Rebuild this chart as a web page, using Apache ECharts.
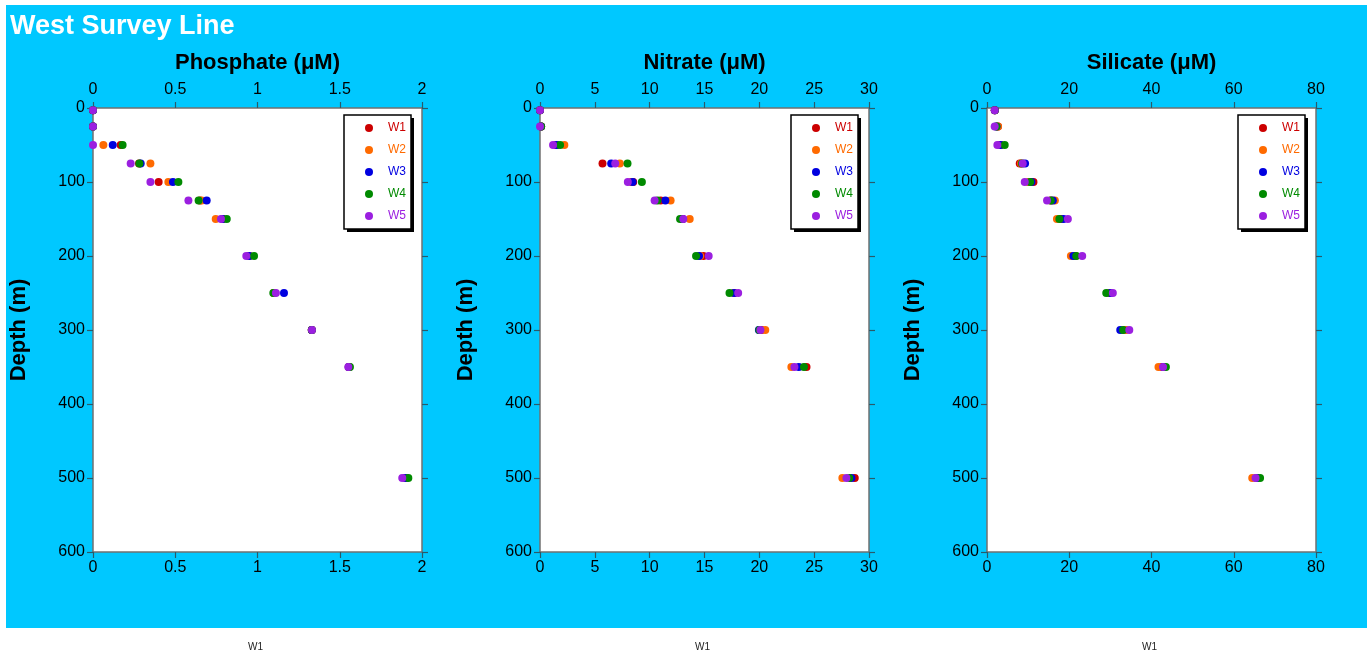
<!DOCTYPE html>
<html>
<head>
<meta charset="utf-8">
<script src="https://cdn.jsdelivr.net/npm/echarts@6/dist/echarts.min.js"></script>
<style>
html,body{margin:0;padding:0;background:#fff;}
#c{width:1367px;height:662px;}
</style>
</head>
<body>
<div id="c"></div>
<script>
const depths = [3, 25, 50, 75, 100, 125, 150, 200, 250, 300, 350, 500];
const seriesNames = ['W1', 'W2', 'W3', 'W4', 'W5'];
const seriesColors = ['#cc0000', '#ff6a00', '#0000e0', '#008a00', '#9b1fe0'];

// Phosphate (uM)
const phosW1 = [0, 0, 0.168, 0.28, 0.399, 0.65, 0.79, 0.95, 1.10, 1.33, 1.555, 1.90];
const phosW2 = [0, 0, 0.063, 0.349, 0.458, 0.66, 0.746, 0.95, 1.10, 1.33, 1.555, 1.90];
const phosW3 = [0, 0, 0.12, 0.29, 0.486, 0.691, 0.79, 0.95, 1.161, 1.33, 1.555, 1.90];
const phosW4 = [0, 0, 0.18, 0.282, 0.519, 0.642, 0.813, 0.979, 1.096, 1.33, 1.562, 1.917];
const phosW5 = [0, 0, 0, 0.229, 0.349, 0.58, 0.778, 0.932, 1.112, 1.331, 1.552, 1.88];

// Nitrate (uM)
const nitW1 = [0, 0.1, 1.5, 5.7, 8.5, 11.0, 13.0, 14.9, 17.7, 20.2, 24.3, 28.7];
const nitW2 = [0, 0.1, 2.22, 7.28, 8.3, 11.91, 13.65, 14.6, 17.7, 20.54, 22.92, 27.57];
const nitW3 = [0, 0.1, 1.5, 6.49, 8.44, 11.43, 13.0, 14.5, 17.7, 19.96, 23.6, 28.4];
const nitW4 = [0, 0.1, 1.83, 7.98, 9.29, 10.7, 12.77, 14.23, 17.28, 20.0, 24.07, 28.2];
const nitW5 = [0, 0, 1.19, 6.86, 8.01, 10.45, 13.07, 15.38, 18.07, 20.1, 23.2, 27.94];

// Silicate (uM)
const silW1 = [1.9, 2.68, 3.3, 7.96, 11.3, 15.5, 18.0, 21.5, 29.8, 33.5, 42.5, 65.5];
const silW2 = [1.9, 2.68, 3.0, 8.3, 10.0, 16.5, 17.0, 20.4, 29.5, 33.8, 41.7, 64.5];
const silW3 = [1.9, 2.3, 3.3, 9.26, 10.8, 16.0, 18.6, 21.0, 30.0, 32.4, 43.0, 65.8];
const silW4 = [1.9, 2.3, 4.3, 8.5, 10.5, 15.5, 17.6, 21.7, 29.0, 33.1, 43.5, 66.4];
const silW5 = [1.87, 1.87, 2.52, 8.69, 9.18, 14.6, 19.66, 23.15, 30.6, 34.6, 42.8, 65.3];

const panelNames = ['Phosphate (\u03bcM)', 'Nitrate (\u03bcM)', 'Silicate (\u03bcM)'];
const panelMax = [2, 30, 80];
const panelInterval = [0.5, 5, 20];
const panelData = [
  [phosW1, phosW2, phosW3, phosW4, phosW5],
  [nitW1, nitW2, nitW3, nitW4, nitW5],
  [silW1, silW2, silW3, silW4, silW5]
];
const depthMax = 600;
const depthInterval = 100;
const bottomLabel = 'W1';
const mainTitle = 'West Survey Line';

const FONT = '"Liberation Sans", Arial, sans-serif';
const gridLefts = [93, 540, 987];
const gridW = 329, gridTop = 108, gridH = 444;

const grids = [], xAxes = [], yAxes = [], series = [], legends = [], graphics = [];

graphics.push({type:'rect', left:6, top:5, shape:{width:1361, height:623}, style:{fill:'#00c8ff'}, z:-10, silent:true});
graphics.push({type:'text', left:10, top:13, style:{text:mainTitle, fill:'#ffffff', font:'bold 27px ' + FONT}});

const axisLineStyle = {color:'#707070', width:1.5};
const tickStyle = {color:'#2a5a6a', width:1.2};

for (let p = 0; p < 3; p++) {
  grids.push({left:gridLefts[p], top:gridTop, width:gridW, height:gridH, backgroundColor:'#ffffff', show:true, borderWidth:0});
  const common = {
    type:'value', gridIndex:p, min:0, max:panelMax[p], interval:panelInterval[p],
    splitLine:{show:false},
    axisLine:{show:true, onZero:false, lineStyle:axisLineStyle},
    axisTick:{show:true, inside:false, length:6, lineStyle:tickStyle},
    axisLabel:{color:'#000', fontFamily:FONT, fontSize:16, margin:8}
  };
  xAxes.push(Object.assign({}, common, {
    position:'top', name:panelNames[p], nameLocation:'middle', nameGap:34,
    axisLabel:{color:'#000', fontFamily:FONT, fontSize:16, margin:10},
    nameTextStyle:{color:'#000', fontFamily:FONT, fontSize:22, fontWeight:'bold'}
  }));
  xAxes.push(Object.assign({}, common, {position:'bottom'}));
  const ycommon = {
    type:'value', gridIndex:p, min:0, max:depthMax, interval:depthInterval, inverse:true,
    splitLine:{show:false},
    axisLine:{show:true, onZero:false, lineStyle:axisLineStyle},
    axisTick:{show:true, inside:false, length:6, lineStyle:tickStyle},
    axisLabel:{color:'#000', fontFamily:FONT, fontSize:16, margin:8}
  };
  yAxes.push(Object.assign({}, ycommon, {
    position:'left', name:'Depth (m)', nameLocation:'middle', nameGap:63, nameRotate:90,
    nameTextStyle:{color:'#000', fontFamily:FONT, fontSize:22, fontWeight:'bold'}
  }));
  yAxes.push(Object.assign({}, ycommon, {position:'right', axisLabel:{show:false}}));

  for (let s = 0; s < 5; s++) {
    series.push({
      type:'scatter', name:seriesNames[s], xAxisIndex:2*p, yAxisIndex:2*p,
      symbol:'circle', symbolSize:8,
      itemStyle:{color:seriesColors[s], opacity:1},
      data: depths.map((d, i) => [panelData[p][s][i], d]),
      z: 2 + s
    });
  }

  const legLeft = gridLefts[p] + 251;
  legends.push({
    left: legLeft, top: 115,
    orient:'vertical', icon:'circle', itemWidth:8, itemHeight:8, itemGap:8,
    backgroundColor:'#ffffff', borderColor:'#000', borderWidth:1.5,
    padding:[6, 5, 6, 21],
    selectedMode:false, z:10,
    data: seriesNames.map((n, i) => ({name:n, textStyle:{color:seriesColors[i]}})),
    textStyle:{fontFamily:FONT, fontSize:12, lineHeight:14, padding:[0,0,0,10]}
  });
  // legend drop shadow
  graphics.push({type:'rect', left:legLeft + 3, top:118, shape:{width:67, height:114},
    style:{fill:'#000'}, z:8, silent:true});

  graphics.push({type:'text', left:gridLefts[p] + 155, top:642,
    style:{text:bottomLabel, fill:'#222', font:'10px ' + FONT}});
}

const chart = echarts.init(document.getElementById('c'));
chart.setOption({
  animation:false,
  backgroundColor:'#ffffff',
  graphic:{elements:graphics},
  grid:grids, xAxis:xAxes, yAxis:yAxes, series:series, legend:legends
});
</script>
</body>
</html>
